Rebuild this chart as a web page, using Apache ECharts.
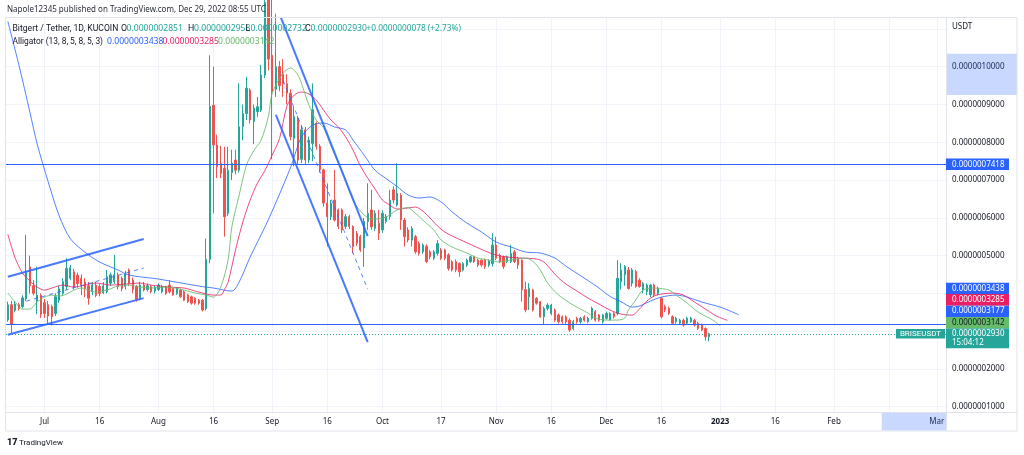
<!DOCTYPE html>
<html>
<head>
<meta charset="utf-8">
<script src="https://cdn.jsdelivr.net/npm/echarts@6.0.0/dist/echarts.min.js"></script>
<style>
html,body{margin:0;padding:0;background:#ffffff;}
#chart{width:1024px;height:455px;}
</style>
</head>
<body>
<div id="chart"></div>
<script>
// Prices are stored in units of 1e-10 USDT (2930 means 0.0000002930)
const firstDay = [2022, 5, 21];   // 2022-06-21
const axisDays = 256;            // categories shown on the time axis

const opens = [
3300,3700,3550,3700,3650,3850,4700,4200,3800,3950,
3750,3700,3650,3470,3820,4000,4180,4400,4570,4480,
4400,4300,4200,4050,4220,4180,4020,4050,4270,4310,
4490,4400,4180,4620,4350,4180,3870,4220,4100,4180,
4060,4100,4040,4180,4220,4130,4000,4090,4040,3960,
3910,3870,3820,3820,3600,4900,8980,7930,7440,7310,
6120,7200,7530,7260,8410,8760,9380,8550,8810,8850,
9780,11900,10300,9400,10000,9800,9550,9300,8100,8640,
7550,8330,7530,7970,8500,7890,7270,6390,6030,6470,
6210,6210,5770,6030,5770,5590,5500,5200,5900,6210,
5720,5850,5680,5900,6030,6740,6340,6600,5940,5680,
5410,5500,5320,5100,5240,5100,4930,5060,5150,5150,
5020,4840,4840,4790,4620,4750,4840,4970,4880,4880,
4880,4750,4790,5280,5000,4970,4840,4840,5100,4930,
4880,4100,3910,4090,3870,3780,3380,3600,3470,3560,
3430,3380,3380,3290,3070,3340,3250,3380,3250,3340,
3520,3430,3250,3340,3300,3470,3470,4310,4490,4620,
4270,4580,4350,4090,4050,3960,4220,4000,3870,3650,
3600,3380,3250,3210,3290,3210,3250,3290,3210,3160,
3070,2851];
const closes = [
3700,3180,3720,3600,3880,4550,4200,4000,3950,3450,
3470,3400,3380,3910,4120,4310,4660,4680,4180,4260,
4230,4130,3870,4220,3950,4000,4200,4440,4490,4490,
4180,4130,4530,4270,4100,3840,4220,4090,4200,4050,
4160,4220,4180,4000,4040,3960,4130,3910,3820,3780,
3740,3740,3740,3560,4900,8950,7930,7350,7180,6030,
7260,7450,7260,8410,8760,9430,8590,8900,8940,9780,
11700,10200,9350,10000,9500,9550,9300,8150,8680,7530,
8330,7530,8060,8860,7890,7270,6390,6030,6390,5940,
5770,5680,6030,5770,5240,5330,5150,5900,6120,5760,
6120,5590,6120,6030,6470,6470,6650,5940,5500,5410,
5720,5100,5060,5280,4840,4970,5100,5320,4930,4930,
4660,4620,4620,4570,4790,4880,4970,4840,4750,4750,
4710,4850,5280,4930,4840,4710,4970,5060,4840,4750,
4100,3560,4130,3560,3740,3380,3600,3690,3690,3290,
3250,3250,3250,3030,3250,3250,3340,3290,3340,3600,
3290,3290,3430,3470,3470,3380,4400,4620,4710,4130,
4620,4180,4180,4260,4220,4220,3960,4130,3380,3560,
3470,3210,3340,3290,3160,3340,3340,3160,3070,3030,
2852,2930];
const lows = [
3250,2950,3500,3550,3600,3800,4000,3950,3450,3350,
3350,3200,3150,3400,3750,3950,4100,4350,4100,4150,
3950,3900,3700,3950,3900,3920,3980,4000,4200,4250,
4100,4050,4100,4200,4000,3780,3820,4050,4050,4000,
4000,4060,4000,3960,4000,3940,3960,3880,3800,3740,
3700,3700,3700,3520,3550,4800,6120,7050,7050,5500,
6050,7000,7150,7200,8050,8590,8500,7950,8670,8800,
9700,9900,7550,9200,9350,9200,9000,8050,7360,7400,
7450,7400,7450,7500,7800,7200,6300,5240,5940,5900,
5700,5600,5700,5700,5060,5250,5100,4700,5680,5680,
5650,5410,5600,5850,5950,6380,6300,5680,5240,5350,
5240,5050,5000,5050,4800,4900,4880,5000,4880,4880,
4600,4580,4560,4440,4580,4700,4800,4800,4700,4700,
4650,4700,4710,4880,4800,4650,4800,4800,4800,4650,
3780,3500,3560,3520,3700,3350,3160,3550,3420,3250,
3200,3200,3180,2980,3020,3200,3200,3250,3210,3300,
3250,3250,3200,3300,3280,3340,3420,4100,4200,4100,
4180,4150,4150,4000,3950,3900,3900,3950,3340,3500,
3430,3180,3200,3180,3120,3180,3220,3120,3030,3000,
2750,2732];
const highs = [
3780,3800,3800,3750,3950,5550,5000,4350,4700,4000,
3850,3800,3700,4000,4200,4400,4930,4750,4650,4550,
4500,4400,4300,4300,4300,4250,4300,4620,4550,5020,
4550,4450,4600,4660,4420,4220,4310,4300,4260,4220,
4200,4260,4220,4200,4350,4150,4160,4120,4080,3990,
3940,3900,3850,3850,5450,10300,10000,8200,7900,7880,
7880,7800,7800,9560,9000,9730,9430,9000,9200,10050,
12000,12300,11800,11400,10150,10200,9800,9400,8940,8700,
8450,8400,8150,9560,8550,7950,7300,6910,6470,7270,
6250,6250,6100,6080,5800,5650,5550,6000,6910,6740,
6200,6210,6200,6100,6740,6830,7440,6650,6000,5750,
5780,5550,5380,5320,5300,5150,5150,5410,5200,5180,
5060,4880,4900,4820,4830,4920,5000,5000,4920,4900,
4920,4900,5590,5500,5050,5000,5000,5280,5150,4970,
4900,4310,4270,4120,3900,3800,3650,3740,3720,3600,
3470,3420,3420,3340,3300,3380,3380,3420,3380,3650,
3560,3450,3460,3520,3500,3500,4880,4800,4750,4700,
4670,4620,4400,4300,4260,4250,4260,4180,3900,3700,
3650,3420,3380,3330,3330,3380,3380,3330,3250,3200,
3100,2958];

// Alligator lines: [day index, price]
const jaw = [[0,11200],[3,10050],[6,8800],[8,7950],[11,6950],[14,6050],[17,5450],[21,5090],[25,4830],[30,4618],[33,4485],[41,4379],[52,4194],[56,4141],[61,4061],[63,4300],[66,4962],[71,5960],[77,7330],[80,8150],[83,8450],[86,8510],[89,8404],[92,8324],[94,8060],[97,7663],[100,7260],[103,7040],[106,6830],[109,6604],[112,6524],[115,6551],[118,6419],[121,6154],[125,5862],[129,5624],[133,5359],[137,5227],[141,5094],[145,5068],[149,4935],[152,4720],[155,4530],[158,4340],[161,4141],[164,3920],[167,3780],[170,3637],[172,3664],[175,3796],[178,3902],[182,3955],[185,3902],[189,3770],[194,3637],[199,3438]];
const teeth = [[0,5560],[2,4935],[4,4538],[6,4327],[8,4167],[10,4088],[12,4141],[15,4220],[18,4167],[21,4220],[24,4273],[28,4220],[32,4247],[36,4273],[39,4220],[44,4167],[48,4141],[52,4035],[56,3955],[58,3955],[59,4100],[60,4300],[62,5147],[64,5889],[66,6471],[68,6922],[70,7250],[72,7663],[74,8100],[76,8950],[78,9250],[80,9330],[82,9277],[84,9118],[86,8850],[88,8589],[90,8404],[92,8140],[94,7795],[96,7372],[98,7054],[100,6763],[102,6471],[104,6339],[106,6233],[109,6260],[111,6286],[113,6180],[115,5995],[117,5783],[119,5624],[121,5518],[124,5386],[127,5253],[130,5121],[133,5015],[136,4962],[140,4935],[144,4909],[146,4830],[148,4618],[150,4406],[152,4247],[155,4061],[158,3876],[161,3717],[164,3558],[167,3452],[170,3425],[172,3584],[174,3796],[176,3929],[178,3982],[181,4008],[184,3955],[187,3770],[190,3584],[193,3399],[196,3285]];
const lips = [[0,4008],[2,3770],[4,3584],[6,3584],[8,3770],[10,3902],[12,3955],[14,3929],[16,3982],[18,4088],[20,4141],[22,4088],[24,4035],[27,4088],[30,4194],[33,4220],[36,4167],[39,4141],[43,4167],[47,4114],[51,4008],[54,3955],[56,3902],[58,4167],[60,4900],[61,5756],[63,6600],[65,7400],[67,7780],[69,8060],[71,8700],[72,9300],[75,9833],[77,9966],[79,9780],[80,9550],[82,8980],[84,8589],[86,8380],[88,7900],[90,7450],[92,7001],[93,6700],[95,6300],[98,6000],[100,5968],[103,6021],[106,6207],[109,6270],[110,6207],[113,5942],[116,5677],[118,5412],[121,5227],[125,5068],[128,4935],[131,4883],[134,4830],[137,4883],[141,4935],[143,4850],[145,4620],[147,4273],[150,3955],[154,3690],[158,3478],[160,3346],[163,3293],[166,3293],[168,3346],[169,3558],[171,3823],[173,4088],[176,4141],[180,4088],[182,3955],[185,3743],[188,3505],[192,3293],[194,3142]];

// Trend-line drawings: [day index, price] end points
const channelLines = [
  {a:[0,4440], b:[37,5437], dash:false},
  {a:[0,2905], b:[37,3875], dash:false},
  {a:[5,3793], b:[37,4670], dash:true},
  {a:[74,11390], b:[98,5516], dash:false},
  {a:[73,8727], b:[98,2711], dash:false},
  {a:[75,9624], b:[98,4112], dash:true}
];
const horizontalLines = [7418, 3177];
const lastPrice = 2930;

const timeLabels = {
 '2022-07-01':'Jul','2022-07-16':'16','2022-08-01':'Aug','2022-08-16':'16',
 '2022-09-01':'Sep','2022-09-16':'16','2022-10-01':'Oct','2022-10-17':'17',
 '2022-11-01':'Nov','2022-11-16':'16','2022-12-01':'Dec','2022-12-16':'16',
 '2023-01-01':'2023','2023-01-16':'16','2023-02-01':'Feb','2023-03-01':'Mar'
};
const gridDates = Object.keys(timeLabels).concat(['2023-02-16']);
const priceTicks = [1000,2000,5000,6000,7000,8000,9000,10000];
const gridPrices = [1000,2000,3000,4000,5000,6000,7000,8000,9000,10000,11000];

const legendOHLC = {o:2851, h:2958, l:2732, c:2930, chg:78, pct:'+2.73%'};
const legendAlligator = [3438, 3285, 3142];

const fmt = v => (v * 1e-10).toFixed(10);
function dayStr(i){ const d = new Date(Date.UTC(firstDay[0], firstDay[1], firstDay[2] + i)); return d.toISOString().slice(0,10); }
const dates = Array.from({length: axisDays}, (_, i) => dayStr(i));
const candles = opens.map((o, i) => [o, closes[i], lows[i], highs[i]]);
const toPts = arr => arr.map(p => [dates[p[0]], p[1]]);

const F = "'Noto Sans', 'DejaVu Sans', sans-serif";
const FL = "Roboto, 'Noto Sans', sans-serif";
const TXT = '#131722';
const UP = '#26a69a', DOWN = '#ef5350';
const BLUE = '#2962ff';

const chart = echarts.init(document.getElementById('chart'), null, {renderer:'canvas'});

const series = [
  {
    type:'line', data:[], silent:true, z:0,
    markLine:{
      silent:true, symbol:['none','none'], z:0, animation:false,
      label:{show:false}, emphasis:{disabled:true},
      lineStyle:{color:'#f0f3fa', width:1, type:'solid'},
      data: gridDates.map(d => ({xAxis:d})).concat(gridPrices.map(v => ({yAxis:v})))
    }
  },
  {
    type:'candlestick', data:candles, barWidth:1.8, z:2, silent:true, clip:true,
    itemStyle:{color:UP, color0:DOWN, borderColor:UP, borderColor0:DOWN, borderWidth:1}
  },
  {type:'line', data:toPts(jaw), showSymbol:false, smooth:0.3, silent:true, z:3,
   lineStyle:{color:BLUE, width:1, opacity:0.8}},
  {type:'line', data:toPts(teeth), showSymbol:false, smooth:0.3, silent:true, z:3,
   lineStyle:{color:'#e91e63', width:1, opacity:0.8}},
  {type:'line', data:toPts(lips), showSymbol:false, smooth:0.3, silent:true, z:3,
   lineStyle:{color:'#66bb6a', width:1, opacity:0.85}}
];
channelLines.forEach(l => {
  series.push({type:'line', data:toPts([l.a, l.b]), showSymbol:false, silent:true, z:5, clip:true,
    lineStyle: l.dash ? {color:BLUE, width:1, type:[4,4], opacity:0.8} : {color:BLUE, width:2, opacity:0.85}});
});
series.push({
  type:'line', data:[], silent:true, z:4,
  markLine:{
    silent:true, symbol:['none','none'], animation:false, label:{show:false}, emphasis:{disabled:true},
    data: horizontalLines.map(v => ({yAxis:v, lineStyle:{color:BLUE, width:1, type:'solid'}}))
      .concat([{yAxis:lastPrice, lineStyle:{color:UP, width:1, type:[1,2]}}])
  }
});

chart.setOption({
  animation:false,
  backgroundColor:'#ffffff',
  textStyle:{fontFamily:F},
  grid:{left:6, right:78, top:18, bottom:43},
  xAxis:{
    type:'category', data:dates, boundaryGap:true,
    axisLine:{show:false}, axisTick:{show:false}, splitLine:{show:false},
    axisLabel:{
      interval:0, margin:6, fontSize:8, color:TXT, fontFamily:F,
      formatter: v => timeLabels[v] ? (v === '2023-01-01' ? '{b|2023}' : timeLabels[v]) : '',
      rich:{b:{fontWeight:'bold', fontSize:8, color:TXT, fontFamily:F}}
    }
  },
  yAxis:{
    type:'value', position:'right', min:860, max:11289,
    axisLine:{show:false}, axisTick:{show:false}, splitLine:{show:false},
    axisLabel:{customValues:priceTicks, formatter:fmt, fontSize:8, color:TXT, margin:6, fontFamily:F}
  },
  series: series
});

// ---- overlay: tags, legend, frame ----
const py = v => chart.convertToPixel({yAxisIndex:0}, v);
const pxd = d => chart.convertToPixel({xAxisIndex:0}, d);
const g = [];
const font = (s, w, fam) => (w || 'normal') + ' ' + s + 'px ' + (fam || F);
function text(x, y, t, fill, size, opts, fam){
  g.push(Object.assign({type:'text', silent:true, z:100, style:{x:x, y:y, text:t, fill:fill, font:font(size || 8, null, fam), align:'left', verticalAlign:'middle'}}, opts || {}));
}
function rect(x, y, w, h, fill, stroke, z){
  g.push({type:'rect', silent:true, z: z || 90, shape:{x:x, y:y, width:w, height:h}, style: stroke ? {fill:'none', stroke:stroke, lineWidth:1} : {fill:fill}});
}

// highlighted ranges on axes
const hlTop = py(10340), hlBot = py(9250);
rect(946, hlTop, 71, hlBot - hlTop, 'rgba(41,98,255,0.25)', null, 80);
const hlX = pxd('2023-02-14');
rect(hlX, 412, 946 - hlX, 18.5, 'rgba(41,98,255,0.25)', null, 80);

// frame lines
g.push({type:'line', silent:true, z:95, shape:{x1:946.5, y1:18, x2:946.5, y2:431}, style:{stroke:'#e0e3eb', lineWidth:1}});
g.push({type:'line', silent:true, z:95, shape:{x1:6, y1:412.5, x2:1017, y2:412.5}, style:{stroke:'#e0e3eb', lineWidth:1}});
rect(5.5, 17.5, 1011.5, 413.5, null, '#e0e3eb', 95);

// price tags on the right axis, stacked like the original
const tags = [
  {v:2930, bg:UP, fg:'#ffffff', sub:'15:04:12'},
  {v:3142, bg:'#66bb6a', fg:TXT},
  {v:3177, bg:BLUE, fg:'#ffffff'},
  {v:3285, bg:'#e91e63', fg:'#ffffff'},
  {v:3438, bg:BLUE, fg:'#ffffff'},
  {v:7418, bg:BLUE, fg:'#ffffff'}
];
const TH = 11.4;
let prevTop = Infinity;
tags.forEach(t => {
  let cy = Math.min(py(t.v), prevTop - TH / 2);
  let top = cy - TH / 2, h = TH;
  if (t.sub) { top = cy - 5.5; h = 20; }
  rect(946, top, 63, h, t.bg, null, 110);
  text(952, cy, fmt(t.v), t.fg, 8, {z:111});
  if (t.sub) text(952, cy + 8.5, t.sub, t.fg, 8, {z:111});
  prevTop = top;
  if (t.sub) {
    rect(896, cy - 4.8, 49, 9.6, t.bg, null, 110);
    g.push({type:'text', silent:true, z:111, style:{x:920.5, y:cy, text:'BRISEUSDT', fill:'#ffffff', font:font(8, null, FL), align:'center', verticalAlign:'middle'}});
  }
});

text(952, 27, 'USDT', TXT, 8);

// header & legend
text(7, 10, 'Napole12345 published on TradingView.com, Dec 29, 2022 08:55 UTC', '#2a2e39', 8);
const VS = 8.6;
text(12.5, 28.5, 'Bitgert / Tether, 1D, KUCOIN', TXT, 8.6, null, FL);
text(121, 28.5, 'O', TXT, 8.8, null, FL); text(126.5, 28.5, fmt(legendOHLC.o), UP, VS);
text(188, 28.5, 'H', TXT, 8.8, null, FL); text(194, 28.5, fmt(legendOHLC.h), UP, VS);
text(245.5, 28.5, 'L', TXT, 8.8, null, FL); text(250.5, 28.5, fmt(legendOHLC.l), UP, VS);
text(305, 28.5, 'C', TXT, 8.8, null, FL); text(310.5, 28.5, fmt(legendOHLC.c), UP, VS);
text(366.5, 28.5, '+' + fmt(legendOHLC.chg) + ' (' + legendOHLC.pct + ')', UP, 8.3);
text(12.5, 41.5, 'Alligator (13, 8, 5, 8, 5, 3)', TXT, 8.4, null, FL);
text(107, 41.5, fmt(legendAlligator[0]), BLUE, VS);
text(162.5, 41.5, fmt(legendAlligator[1]), '#e91e63', VS);
text(218, 41.5, fmt(legendAlligator[2]), '#66bb6a', VS);

// footer logo + name
g.push({type:'text', silent:true, z:100, style:{x:7, y:443, text:'17', fill:TXT, font:font(9, '900', FL), align:'left', verticalAlign:'middle'}});
text(19, 443, 'TradingView', TXT, 8, null, FL);

chart.setOption({graphic: g});
</script>
</body>
</html>
